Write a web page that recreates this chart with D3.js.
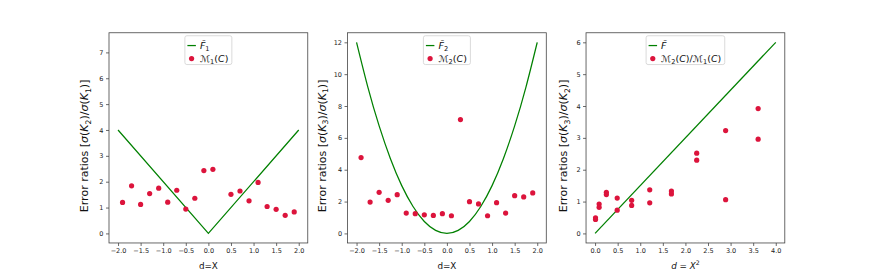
<!DOCTYPE html>
<html>
<head>
<meta charset="utf-8">
<script src="https://cdn.jsdelivr.net/npm/d3@7"></script>
<style>
  body { margin: 0; background: #fff; }
  svg { font-family: "DejaVu Sans", sans-serif; }
</style>
</head>
<body>
<div id="chart"></div>
<script>
var width = 872,
    height = 273;

// measured points
var dX = [-1.9, -1.7, -1.5, -1.3, -1.1, -0.9, -0.7, -0.5, -0.3, -0.1,
           0.1, 0.3, 0.5, 0.7, 0.9, 1.1, 1.3, 1.5, 1.7, 1.9];
var m1 = [1.20, 1.84, 1.12, 1.54, 1.75, 1.21, 1.67, 0.94, 1.36, 2.43,
          2.48, 7.39, 1.51, 1.64, 1.26, 1.97, 1.04, 0.93, 0.70, 0.83];
var m2 = [4.76, 1.97, 2.58, 2.08, 2.43, 1.28, 1.24, 1.17, 1.13, 1.24,
          1.11, 7.15, 1.99, 1.85, 1.11, 1.93, 1.28, 2.37, 2.29, 2.54];

var dSq = [0.01, 0.01, 0.09, 0.09, 0.25, 0.25, 0.49, 0.49, 0.81, 0.81,
           1.21, 1.21, 1.69, 1.69, 2.25, 2.25, 2.89, 2.89, 3.61, 3.61];
var ratio = [0.49, 0.44, 0.92, 0.82, 1.29, 1.22, 1.11, 0.73, 1.04, 0.88,
             1.37, 0.96, 1.33, 1.24, 2.52, 2.30, 3.23, 1.06, 3.92, 2.96];

// theoretical curves
var f1X = [-2, 0, 2],
    f1Y = [4, 0, 4];
var f2X = [-2, -1.75, -1.5, -1.25, -1, -0.75, -0.5, -0.25, 0,
           0.25, 0.5, 0.75, 1, 1.25, 1.5, 1.75, 2];
var f2Y = [12, 9.19, 6.75, 4.69, 3, 1.69, 0.75, 0.19, 0,
           0.19, 0.75, 1.69, 3, 4.69, 6.75, 9.19, 12];
var f3X = [0, 4],
    f3Y = [0, 6];

// ticks
var xTicksD = [-2, -1.5, -1, -0.5, 0, 0.5, 1, 1.5, 2];
var xTicksSq = [0, 0.5, 1, 1.5, 2, 2.5, 3, 3.5, 4];
var yTicks1 = [0, 1, 2, 3, 4, 5, 6, 7];
var yTicks2 = [0, 2, 4, 6, 8, 10, 12];
var yTicks3 = [0, 1, 2, 3, 4, 5, 6];

var lineColor = "#008000",
    dotColor = "#dc143c";

// figure layout (subplot fractions)
var figLeft = 0.125 * width, figRight = 0.9 * width;
var axW = (figRight - figLeft) / 3.4, gap = axW * 0.2;
var axTop = 0.12 * height, axBottom = 0.89 * height;

var panels = [
  { px: dX, py: m1, lx: f1X, ly: f1Y, xt: xTicksD, yt: yTicks1, yoff: -21,
    xlab: [["d=X", ""]],
    ylab: [["Error ratios [", ""], ["σ", "i"], ["(", ""], ["K", "i"], ["2", "sub"], [")/", ""],
           ["σ", "i"], ["(", ""], ["K", "i"], ["1", "sub"], [")]", ""]],
    leg1: [["F\u0304", "i"], ["1", "sub"]],
    leg2: [["ℳ", ""], ["1", "sub"], ["(", ""], ["C", "i"], [")", ""]] },
  { px: dX, py: m2, lx: f2X, ly: f2Y, xt: xTicksD, yt: yTicks2, yoff: -22,
    xlab: [["d=X", ""]],
    ylab: [["Error ratios [", ""], ["σ", "i"], ["(", ""], ["K", "i"], ["3", "sub"], [")/", ""],
           ["σ", "i"], ["(", ""], ["K", "i"], ["1", "sub"], [")]", ""]],
    leg1: [["F\u0304", "i"], ["2", "sub"]],
    leg2: [["ℳ", ""], ["2", "sub"], ["(", ""], ["C", "i"], [")", ""]] },
  { px: dSq, py: ratio, lx: f3X, ly: f3Y, xt: xTicksSq, yt: yTicks3, yoff: -19,
    xlab: [["d", "i"], [" = ", ""], ["X", "i"], ["2", "sup"]],
    ylab: [["Error ratios [", ""], ["σ", "i"], ["(", ""], ["K", "i"], ["3", "sub"], [")/", ""],
           ["σ", "i"], ["(", ""], ["K", "i"], ["2", "sub"], [")]", ""]],
    leg1: [["F\u0304", "i"]],
    leg2: [["ℳ", ""], ["2", "sub"], ["(", ""], ["C", "i"], [")/", ""],
           ["ℳ", ""], ["1", "sub"], ["(", ""], ["C", "i"], [")", ""]] }
];

var svg = d3.select("#chart").append("svg")
    .attr("width", width)
    .attr("height", height);

// write a little mathtext-like label into a text element
function mathText(sel, parts) {
  var shift = 0;
  parts.forEach(function (p) {
    var t = sel.append("tspan").text(p[0]);
    var target = 0;
    if (p[1] == "i") t.style("font-style", "italic");
    if (p[1] == "sub") { t.style("font-size", "0.7em"); target = 0.25; }
    if (p[1] == "sup") { t.style("font-size", "0.7em"); target = -0.4; }
    var fs = parseFloat(sel.style("font-size"));
    t.attr("dy", (target - shift) * fs);
    shift = target;
  });
}

// matplotlib-like 5% margins
function padded(vals) {
  var ext = d3.extent(vals), m = (ext[1] - ext[0]) * 0.05;
  return [ext[0] - m, ext[1] + m];
}

panels.forEach(function (p, i) {
  var x0 = figLeft + i * (axW + gap);
  var g = svg.append("g").attr("transform", "translate(" + x0 + "," + axTop + ")");
  var h = axBottom - axTop;

  var x = d3.scaleLinear().domain(padded(p.lx.concat(p.px))).range([0, axW]);
  var y = d3.scaleLinear().domain(padded(p.ly.concat(p.py))).range([h, 0]);

  var xAxis = g.append("g")
      .attr("transform", "translate(0," + h + ")")
      .call(d3.axisBottom(x).tickValues(p.xt).tickFormat(d3.format(".1f")).tickSize(3).tickPadding(2));
  var yAxis = g.append("g")
      .call(d3.axisLeft(y).tickValues(p.yt).tickFormat(d3.format("d")).tickSize(3).tickPadding(2.5));

  [xAxis, yAxis].forEach(function (a) {
    a.select(".domain").remove();
    a.selectAll("line").attr("stroke", "#444").attr("stroke-width", 0.8);
    a.selectAll("text").attr("fill", "#222").style("font-size", "6.5px")
      .style("font-family", "DejaVu Sans");
  });

  // curve
  var line = d3.line()
      .x(function (d) { return x(d[0]); })
      .y(function (d) { return y(d[1]); })
      .curve(p.lx.length > 3 ? d3.curveNatural : d3.curveLinear);
  g.append("path")
      .datum(d3.zip(p.lx, p.ly))
      .attr("d", line)
      .attr("fill", "none")
      .attr("stroke", lineColor)
      .attr("stroke-width", 1.25);

  // scatter
  g.selectAll("circle.pt")
      .data(d3.zip(p.px, p.py))
      .enter().append("circle")
      .attr("class", "pt")
      .attr("cx", function (d) { return x(d[0]); })
      .attr("cy", function (d) { return y(d[1]); })
      .attr("r", 2.6)
      .attr("fill", dotColor);

  // frame
  g.append("rect")
      .attr("width", axW).attr("height", h)
      .attr("fill", "none")
      .attr("stroke", "#444")
      .attr("stroke-width", 0.8);

  // axis labels
  var xl = g.append("text")
      .attr("x", axW / 2).attr("y", h + 26)
      .attr("text-anchor", "middle")
      .style("font-size", "8.8px")
      .attr("fill", "#111");
  mathText(xl, p.xlab);

  var yl = g.append("text")
      .attr("transform", "translate(" + p.yoff + "," + (h / 2 + 8) + ") rotate(-90)")
      .attr("text-anchor", "middle")
      .style("font-size", "11px")
      .attr("fill", "#111");
  mathText(yl, p.ylab);

  // legend, upper center
  var leg = g.append("g");
  var box = leg.append("rect")
      .attr("rx", 2).attr("ry", 2)
      .attr("height", 28.8)
      .attr("fill", "#fff")
      .attr("stroke", "#d0d0d0")
      .attr("stroke-width", 0.8);
  var t1 = leg.append("text").attr("x", 15).attr("y", 13).style("font-size", "9.5px").attr("fill", "#111");
  mathText(t1, p.leg1);
  var t2 = leg.append("text").attr("x", 15).attr("y", 26).style("font-size", "9.5px").attr("fill", "#111");
  mathText(t2, p.leg2);
  var tw = Math.max(t1.node().getComputedTextLength(), t2.node().getComputedTextLength());
  var bw = 15 + tw + 3.5;
  leg.attr("transform", "translate(" + (axW / 2 - bw / 2) + ",3)");
  box.attr("width", bw);
  leg.append("line")
      .attr("x1", 2.5).attr("x2", 11).attr("y1", 9.8).attr("y2", 9.8)
      .attr("stroke", lineColor).attr("stroke-width", 1.25);
  leg.append("circle")
      .attr("cx", 6.7).attr("cy", 22.8).attr("r", 2.6)
      .attr("fill", dotColor);
});
</script>
</body>
</html>
